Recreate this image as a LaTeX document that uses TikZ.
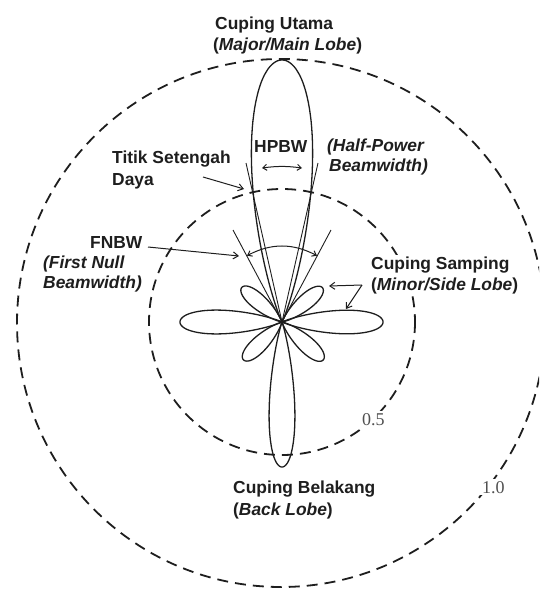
\documentclass[tikz,border=0pt]{standalone}
\usepackage{fontspec}
\setmainfont{Liberation Sans}
\newfontfamily\numfont{Liberation Serif}
\usetikzlibrary{arrows.meta}
\definecolor{ink}{HTML}{1E1E1E}
\definecolor{numink}{HTML}{505050}
% #1 direction, #2 length, #3 angular scale, #4 half span (deg)
\newcommand\drawlobe[4]{\draw[lobe] plot[domain=-#4:#4, samples=141, variable=\t]
  ({282+#2*exp(-11*(rad(\t)/#3)^2-67*(rad(\t)/#3)^4)*cos(#1+\t)},
   {322-#2*exp(-11*(rad(\t)/#3)^2-67*(rad(\t)/#3)^4)*sin(#1+\t)}) -- cycle;}
\begin{document}
\begin{tikzpicture}[x=1pt,y=-1pt,
  lbl/.style={inner sep=1.5pt, anchor=base west, fill=white, font=\fontsize{17.4}{20}\selectfont\bfseries, text=ink},
  lblclear/.style={inner sep=0pt, anchor=base west, font=\fontsize{17.4}{20}\selectfont\bfseries, text=ink},
  num/.style={inner sep=2pt, anchor=base west, fill=white, font=\fontsize{18}{20}\selectfont\numfont, text=numink},
  lobe/.style={draw=ink, line width=1.3pt, line join=round},
  ring/.style={draw=ink, line width=1.8pt, dash pattern=on 11pt off 7pt},
  guide/.style={draw=ink, line width=0.9pt},
  ptr/.style={draw=ink, line width=1pt, -{Straight Barb[length=5pt,width=7pt]}},
  dbl/.style={draw=ink, line width=1pt, {Straight Barb[length=4pt,width=6pt]}-{Straight Barb[length=4pt,width=6pt]}}]
\useasboundingbox (0,0) rectangle (539,589);
\clip (0,0) rectangle (539,589);
\coordinate (O) at (282,322);
% circles
\draw[ring] (281,323) circle[radius=264];
\draw[ring] (O) circle[radius=133];
% lobes
\drawlobe{90}{262}{1}{32}
\drawlobe{270}{145}{0.76}{25}
\drawlobe{180}{102}{1}{32}
\drawlobe{0}{101}{1}{32}
\drawlobe{40.3}{53}{1.25}{40}
\drawlobe{139.3}{53}{1.25}{40}
\drawlobe{224.5}{54}{1.25}{40}
\drawlobe{317.4}{56}{1.25}{40}
% guide lines
\coordinate (hpL) at (246,163);
\coordinate (hpR) at (318,163);
\coordinate (fnL) at (233,230);
\coordinate (fnR) at (331,230);
\draw[guide] (O) -- (hpL);
\draw[guide] (O) -- (hpR);
\draw[guide] (O) -- (fnL);
\draw[guide] (O) -- (fnR);
% beamwidth arrows
\coordinate (hA) at (262,168);
\coordinate (hB) at (302,168);
\draw[dbl] (hA) to[bend left=7.5] (hB);
\coordinate (fA) at (247,255.7);
\coordinate (fB) at (317,255.7);
\draw[dbl] (fA) to[bend left=27.8] (fB);
% labels
\node[lbl] (cu) at (213.5,29.5) {Cuping Utama};
\node[lbl] (cum) at (211.5,50) {(\textit{Major/Main Lobe})};
\node[lblclear] (hp) at (254,152) {HPBW};
\node[lbl] (hpe1) at (325.5,151) {\textit{(Half-Power}};
\node[lbl] (hpe2) at (327.5,171) {\textit{Beamwidth)}};
\node[lbl] (ts1) at (110.5,163) {Titik Setengah};
\node[lbl] (ts2) at (110.5,185) {Daya};
\node[lbl] (fn) at (88.5,248) {FNBW};
\node[lbl] (fn1) at (41.5,268) {\textit{(First Null}};
\node[lbl] (fn2) at (41.5,288) {\textit{Beamwidth)}};
\node[lbl] (cs1) at (369.5,269.5) {Cuping Samping};
\node[lbl] (cs2) at (369.5,290.5) {(\textit{Minor/Side Lobe})};
\node[lbl] (cb1) at (231.5,493.5) {Cuping Belakang};
\node[lbl] (cb2) at (231.5,515) {(\textit{Back Lobe})};
\node[num] (half) at (360,425) {0.5};
\node[num] (one) at (480,493) {1.0};
% pointer arrows
\coordinate (tsA) at (203,177);
\coordinate (tsB) at (244,189);
\draw[ptr] (tsA) -- (tsB);
\coordinate (fnA) at (148,247);
\coordinate (fnB) at (239,256);
\draw[ptr] (fnA) -- (fnB);
\coordinate (csA) at (362,285);
\coordinate (csB) at (329,286);
\coordinate (csC) at (346,309);
\draw[ptr] (csA) -- (csB);
\draw[ptr] (csA) -- (csC);
\end{tikzpicture}
\end{document}
